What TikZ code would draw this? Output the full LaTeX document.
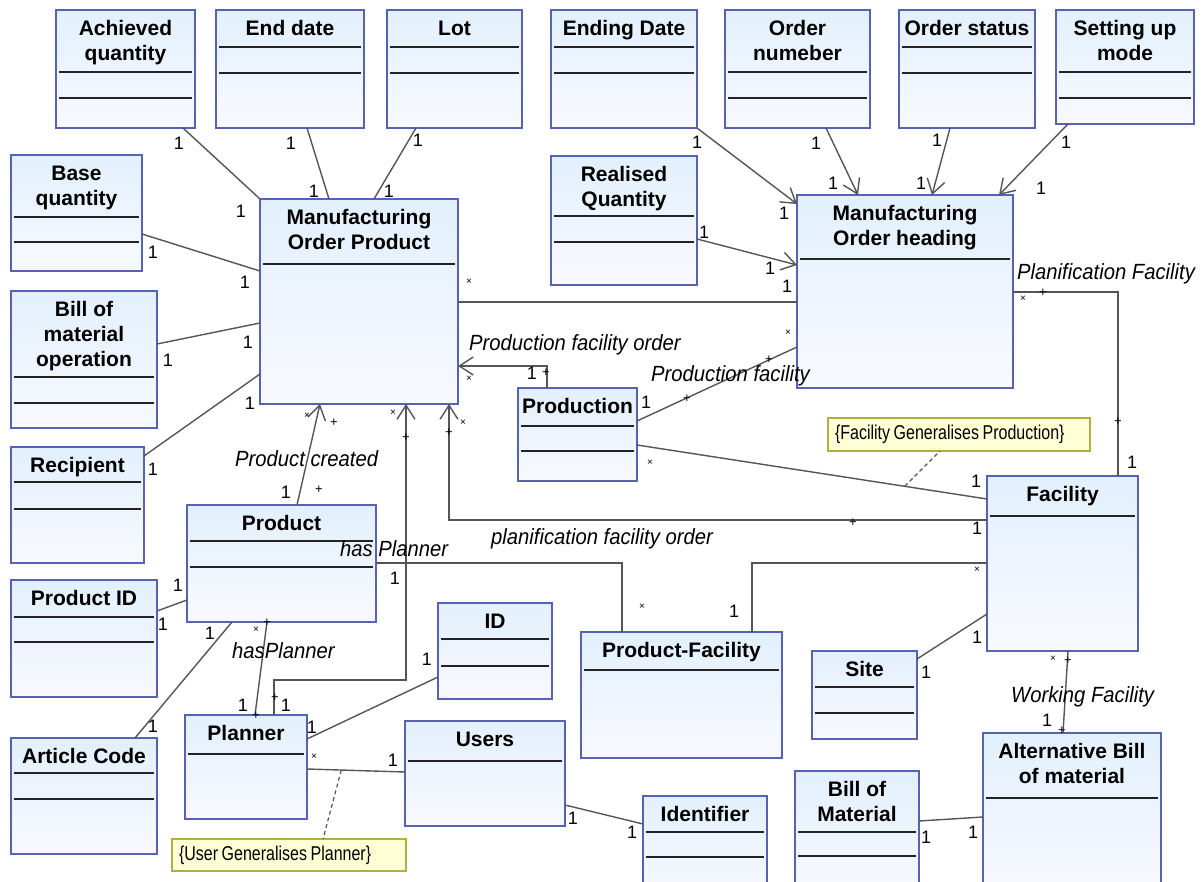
\documentclass[tikz,border=0pt]{standalone}
\usepackage{fontspec}
\setmainfont{Liberation Sans}
\newfontfamily\notefont[FakeStretch=0.8]{Liberation Sans}
\newfontfamily\labfont[FakeStretch=0.92]{Liberation Sans}
\usetikzlibrary{arrows.meta,calc}
\definecolor{boxborder}{RGB}{88,98,178}
\definecolor{boxtop}{RGB}{226,240,253}
\definecolor{boxbot}{RGB}{249,249,255}
\definecolor{linegray}{RGB}{85,85,85}
\definecolor{sepcol}{RGB}{35,35,35}
\definecolor{notefill}{RGB}{255,255,214}
\definecolor{notedraw}{RGB}{176,176,64}
\newcommand\tightsp{\spaceskip=3.6pt\relax}
\tikzset{
 umlb/.style={draw=boxborder, line width=1.6pt, top color=boxtop, bottom color=boxbot, inner sep=0pt, outer sep=0pt},
 sepl/.style={draw=sepcol, line width=1.5pt},
 ttl/.style={font=\fontsize{21}{25}\selectfont\bfseries, align=center, inner sep=0pt, anchor=north},
 conn/.style={draw=linegray, line width=1.4pt},
 arr/.style={conn, -{Straight Barb[length=14pt,width=18pt]}},
 dashl/.style={draw=linegray, line width=1.2pt, dash pattern=on 4pt off 3pt},
 notebox/.style={draw=notedraw, line width=1.4pt, fill=notefill, font=\notefont\fontsize{20}{20}\selectfont, inner xsep=7pt, inner ysep=0pt, align=left, anchor=north west, outer sep=0pt},
 one/.style={font=\fontsize{18}{18}\selectfont, inner sep=0pt},
 star/.style={font=\fontsize{10}{10}\selectfont, inner sep=0pt},
 plus/.style={font=\fontsize{13}{13}\selectfont, inner sep=0pt},
 lab/.style={font=\labfont\itshape\fontsize{22}{22}\selectfont, inner sep=0pt, anchor=base west},
}
\newcommand\umlbox[7]{%
  \node[umlb, anchor=north west, minimum width={#4-#2}, minimum height={#5-#3}] (#1) at (#2,#3) {};
  \foreach \s in {#7} {\draw[sepl] ({#2+3},\s) -- ({#4-3},\s);}
  \node[ttl] (#1-t) at ({(#2+#4)/2},{#3+10.5}) {#6};
}
\begin{document}
\begin{tikzpicture}[x=1pt,y=-1pt]
\useasboundingbox (0,0) rectangle (1203,882);
\clip (0,0) rectangle (1203,882);
% boxes
\umlbox{ach}{56}{10}{195}{128}{Achieved\\quantity}{72,98}
\umlbox{enddate}{216}{10}{364}{128}{End date}{47,73}
\umlbox{lot}{387}{10}{522}{128}{Lot}{47,73}
\umlbox{endingdate}{551}{10}{697}{128}{Ending Date}{47,73}
\umlbox{ordnum}{725}{10}{870}{128}{Order\\numeber}{72,98}
\umlbox{ordstat}{899}{10}{1035}{128}{Order status}{47,73}
\umlbox{setup}{1056}{10}{1194}{124}{Setting up\\mode}{72,98}
\umlbox{base}{11}{155}{142}{271}{Base\\quantity}{217,242}
\umlbox{real}{551}{156}{697}{285}{Realised\\Quantity}{216,242}
\umlbox{mop}{260}{199}{458}{404}{Manufacturing\\Order Product}{264}
\umlbox{moh}{797}{195}{1013}{388}{Manufacturing\\Order heading}{259}
\umlbox{bomop}{11}{291}{157}{428}{Bill of\\material\\operation}{377,403}
\umlbox{prodn}{518}{388}{637}{481}{Production}{426,451}
\umlbox{recip}{11}{447}{144}{563}{Recipient}{482,509}
\umlbox{fac}{987}{476}{1138}{651}{Facility}{516}
\umlbox{prod}{187}{505}{376}{622}{Product}{541,567}
\umlbox{prodid}{11}{580}{157}{697}{Product ID}{617,642}
\umlbox{id}{438}{603}{552}{699}{ID}{639,666}
\umlbox{pf}{581}{632}{782}{758}{Product-Facility}{670}
\umlbox{site}{812}{651}{917}{739}{Site}{687,713}
\umlbox{plan}{185}{715}{307}{819}{Planner}{754}
\umlbox{users}{405}{721}{565}{826}{Users}{761}
\umlbox{art}{11}{738}{157}{854}{Article Code}{773,799}
\umlbox{ident}{643}{796}{767}{900}{Identifier}{832,857}
\umlbox{bom}{795}{771}{919}{900}{Bill of\\Material}{832,856}
\umlbox{alt}{983}{733}{1161}{900}{Alternative Bill\\of material}{798}
% notes
\node[notebox, minimum height=33, text width=248] (note1) at (828,418) {\tightsp\{Facility Generalises Production\}};
\node[notebox, minimum height=32, text width=220] (note2) at (172,839) {\tightsp\{User Generalises Planner\}};
% connectors: MOP attributes
\draw[conn] (183,0 |- ach.south) -- (mop.north west);
\draw[conn] (307,0 |- enddate.south) -- (329,0 |- mop.north);
\draw[conn] (416,0 |- lot.south) -- (374,0 |- mop.north);
\draw[conn] (base.east |- 0,234) -- (mop.west |- 0,271);
\draw[conn] (bomop.east |- 0,344) -- (mop.west |- 0,323);
\draw[conn] (recip.east |- 0,456) -- (mop.west |- 0,374);
% MOH attributes
\draw[arr] (endingdate.south east) -- (moh.west |- 0,204);
\draw[arr] (826,0 |- ordnum.south) -- (858,0 |- moh.north);
\draw[arr] (950,0 |- ordstat.south) -- (932,0 |- moh.north);
\draw[arr] (1068,0 |- setup.south) -- (999,0 |- moh.north);
\draw[arr] (real.east |- 0,239) -- (moh.west |- 0,265);
% associations
\draw[conn] (mop.east |- 0,302) -- (moh.west |- 0,302);
\draw[arr] (547,0 |- prodn.north) |- (mop.east |- 0,366);
\draw[conn] (prodn.east |- 0,421) -- (moh.west |- 0,347);
\coordinate (pfA) at (prodn.east |- 0,445);
\coordinate (pfB) at (fac.west |- 0,499);
\draw[conn] (pfA) -- (pfB);
\coordinate (d1) at ($(pfA)!0.765!(pfB)$);
\draw[dashl] (d1) -- (940,0 |- note1.south);
\draw[conn] (moh.east |- 0,292) -| (1118,0 |- fac.north);
\draw[arr] (fac.west |- 0,520) -| (449,0 |- mop.south);
\draw[arr] (297,0 |- prod.north) -- (320,0 |- mop.south);
\draw[arr] (274,0 |- plan.north) |- (406,680) -- (406,0 |- mop.south);
\draw[conn] (267,0 |- prod.south) -- (255,0 |- plan.north);
\draw[conn] (prod.east |- 0,563) -| (622,0 |- pf.north);
\draw[conn] (fac.west |- 0,563) -| (752,0 |- pf.north);
\draw[conn] (prodid.east |- 0,611) -- (prod.west |- 0,600);
\draw[conn] (135,0 |- art.north) -- (232,0 |- prod.south);
\draw[conn] (plan.east |- 0,739) -- (id.west |- 0,677);
\coordinate (puA) at (plan.east |- 0,769);
\coordinate (puB) at (users.west |- 0,772);
\draw[conn] (puA) -- (puB);
\coordinate (d2) at ($(puA)!0.35!(puB)$);
\draw[dashl] (d2) -- (323,0 |- note2.north);
\draw[conn] (users.east |- 0,805) -- (ident.west |- 0,824);
\draw[conn] (site.east |- 0,659) -- (fac.west |- 0,614);
\draw[conn] (1068,0 |- fac.south) -- (1063,0 |- alt.north);
\draw[conn] (bom.east |- 0,821) -- (alt.west |- 0,817);
% multiplicities
\foreach \x/\y [count=\i] in {179/143, 241/211, 291/143, 314/191, 418/140, 389/191,
  153/252, 245/282, 168/360, 248/342, 153/469, 250/403,
  697/142, 784/213, 816/143, 833/183, 937/140, 921/183, 1066/142, 1041/188,
  704/232, 770/268, 787/286, 532/373, 646/402, 976/481, 1132/462, 977/528,
  286/492, 286/705, 243/705, 395/578, 734/611, 178/585, 163/624, 210/633, 153/726,
  312/727, 427/659, 393/760, 573/818, 632/832, 926/672, 977/637, 1047/720, 926/837, 973/832}
  {\node[one] (one\i) at (\x,\y) {1};}
\foreach \x/\y [count=\i] in {469/282, 469/379, 788/333, 650/463, 1023/299, 463/423, 307/416,
  393/413, 256/630, 642/607, 977/570, 314/757, 1053/659}
  {\node[star] (star\i) at (\x,\y) {×};}
\foreach \x/\y [count=\i] in {546/373, 687/399, 769/360, 1043/293, 1118/422, 853/523, 449/433,
  319/490, 334/423, 275/698, 406/438, 267/623, 256/716, 1068/661, 1062/731}
  {\node[plus] (plus\i) at (\x,\y) {+};}
% association names
\node[lab] (l1) at (469,351) {Production facility order};
\node[lab] (l2) at (651,382) {Production facility};
\node[lab] (l3) at (235,467) {Product created};
\node[lab] (l4) at (340,556) {has Planner};
\node[lab] (l5) at (232,658) {hasPlanner};
\node[lab] (l6) at (491,544) {planification facility order};
\node[lab] (l7) at (1017,280) {Planification Facility};
\node[lab] (l8) at (1011,702) {Working Facility};
\end{tikzpicture}
\end{document}
